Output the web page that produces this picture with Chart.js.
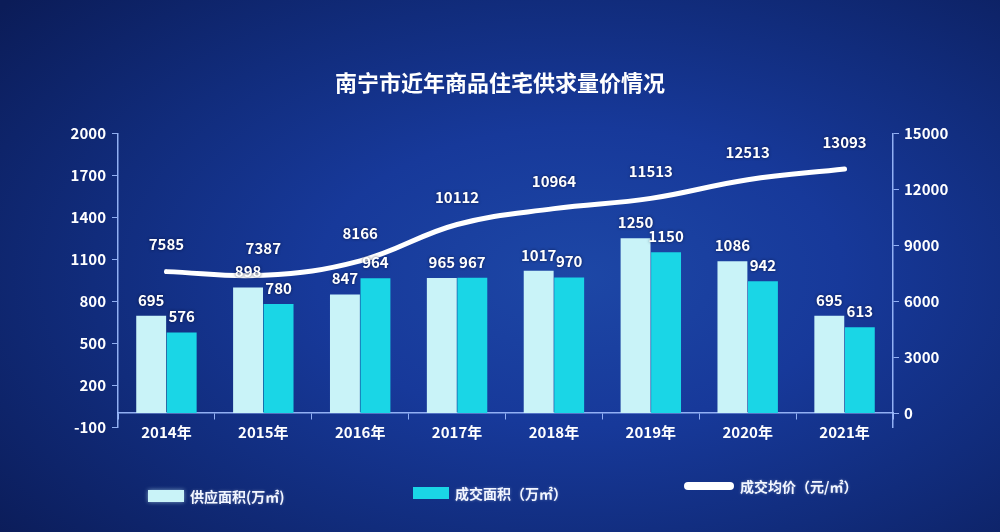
<!DOCTYPE html>
<html>
<head>
<meta charset="utf-8">
<script src="https://cdn.jsdelivr.net/npm/chart.js@4.4.1/dist/chart.umd.min.js"></script>
<style>
  html, body { margin: 0; padding: 0; }
  body {
    width: 1000px; height: 532px; overflow: hidden; position: relative;
    background: radial-gradient(ellipse 75% 80% at 58% 52%, #1d47a6 0%, #17399a 35%, #112c7c 65%, #0b1c58 100%);
    font-family: "Noto Sans CJK SC", "Noto Sans", sans-serif;
  }
  #wrap { position: absolute; left: 0; top: 0; width: 1000px; height: 532px; }
  .lg { position: absolute; color: #f2f6ff; font-weight: bold; font-size: 14px; white-space: nowrap;
        text-shadow: 0 0 3px rgba(255,255,255,0.35); display: flex; align-items: center; }
  .sw { display: inline-block; margin-right: 6px; }
</style>
</head>
<body>
<div id="wrap"><canvas id="c" width="1000" height="532"></canvas></div>
<div id="legend"></div>
<script>
const categories = ['2014年','2015年','2016年','2017年','2018年','2019年','2020年','2021年'];
const supplyArea = [695, 898, 847, 965, 1017, 1250, 1086, 695];
const dealArea   = [576, 780, 964, 967, 970, 1150, 942, 613];
const avgPrice   = [7585, 7387, 8166, 10112, 10964, 11513, 12513, 13093];
const leftTicks  = [-100, 200, 500, 800, 1100, 1400, 1700, 2000];
const rightTicks = [0, 3000, 6000, 9000, 12000, 15000];
const seriesNames = ['供应面积(万㎡)', '成交面积（万㎡）', '成交均价（元/㎡）'];
const chartTitle = '南宁市近年商品住宅供求量价情况';

const colSupply = '#c9f3f8';
const colDeal = '#1ad6e6';
const colLine = '#ffffff';
const axisCol = 'rgba(160,190,255,0.9)';
const fontFam = '"Noto Sans CJK SC", "Noto Sans", sans-serif';

const valueLabels = {
  id: 'valueLabels',
  afterDatasetsDraw(chart) {
    const ctx = chart.ctx;
    ctx.save();
    ctx.font = 'bold 15px ' + fontFam;
    ctx.fillStyle = '#ffffff';
    ctx.textAlign = 'center';
    ctx.textBaseline = 'middle';
    ctx.shadowColor = 'rgba(0,10,40,0.7)';
    ctx.shadowBlur = 3;
    chart.data.datasets.forEach((ds, i) => {
      const meta = chart.getDatasetMeta(i);
      meta.data.forEach((el, j) => {
        const off = ds.type === 'line' ? 27 : 16;
        ctx.fillText(String(ds.data[j]), el.x, el.y - off);
      });
    });
    ctx.restore();
  }
};

const tickFont = { family: fontFam, size: 15, weight: 'bold' };
const plainNum = v => String(v);

new Chart(document.getElementById('c'), {
  data: {
    labels: categories,
    datasets: [
      { type: 'line', label: seriesNames[2], data: avgPrice, yAxisID: 'y1',
        borderColor: colLine, borderWidth: 5, tension: 0.4, pointRadius: 0,
        borderCapStyle: 'round', fill: false, order: 0 },
      { type: 'bar', label: seriesNames[0], data: supplyArea, yAxisID: 'y',
        backgroundColor: colSupply, categoryPercentage: 0.63, barPercentage: 0.98, order: 1 },
      { type: 'bar', label: seriesNames[1], data: dealArea, yAxisID: 'y',
        backgroundColor: colDeal, categoryPercentage: 0.63, barPercentage: 0.98, order: 1 }
    ]
  },
  options: {
    responsive: false,
    animation: false,
    layout: { padding: { left: 0, right: 0, top: 0, bottom: 105 } },
    plugins: {
      legend: { display: false },
      tooltip: { enabled: false },
      title: { display: true, text: chartTitle, color: '#ffffff',
               font: { family: fontFam, size: 22, weight: 'bold' },
               padding: { top: 69, bottom: 38 } }
    },
    scales: {
      x: {
        position: { y: 0 },
        grid: { display: true, drawOnChartArea: false, drawTicks: true, tickLength: 6, color: axisCol, offset: true },
        border: { display: true, color: axisCol, width: 1.5 },
        ticks: { color: '#ffffff', font: tickFont, padding: 4 }
      },
      y: {
        position: 'left', min: -100, max: 2000,
        afterBuildTicks: s => { s.ticks = leftTicks.map(v => ({ value: v })); },
        afterFit: s => { s.width = 118; },
        grid: { display: true, drawOnChartArea: false, drawTicks: true, tickLength: 6, color: axisCol },
        border: { display: true, color: axisCol, width: 1.5 },
        ticks: { color: '#ffffff', font: tickFont, padding: 6, callback: plainNum }
      },
      y1: {
        position: 'right', min: -750, max: 15000,
        afterBuildTicks: s => { s.ticks = rightTicks.map(v => ({ value: v })); },
        afterFit: s => { s.width = 107; },
        grid: { display: true, drawOnChartArea: false, drawTicks: true, tickLength: 6, color: axisCol },
        border: { display: true, color: axisCol, width: 1.5 },
        ticks: { color: '#ffffff', font: tickFont, padding: 5, callback: plainNum }
      }
    }
  },
  plugins: [valueLabels]
});

// HTML legend built from series names
const legendSpec = [
  { name: seriesNames[0], x: 148, y: 486, sw: 'width:36px;height:12px;background:' + colSupply + ';box-shadow:0 0 4px rgba(200,245,255,0.6);' },
  { name: seriesNames[1], x: 413, y: 483, sw: 'width:36px;height:12px;background:' + colDeal + ';' },
  { name: seriesNames[2], x: 684, y: 476, sw: 'width:50px;height:8px;border-radius:4px;background:' + colLine + ';' }
];
const lg = document.getElementById('legend');
legendSpec.forEach(it => {
  const d = document.createElement('div');
  d.className = 'lg';
  d.style.left = it.x + 'px';
  d.style.top = it.y + 'px';
  d.innerHTML = '<span class="sw" style="' + it.sw + '"></span><span></span>';
  d.lastChild.textContent = it.name;
  lg.appendChild(d);
});
</script>
</body>
</html>
